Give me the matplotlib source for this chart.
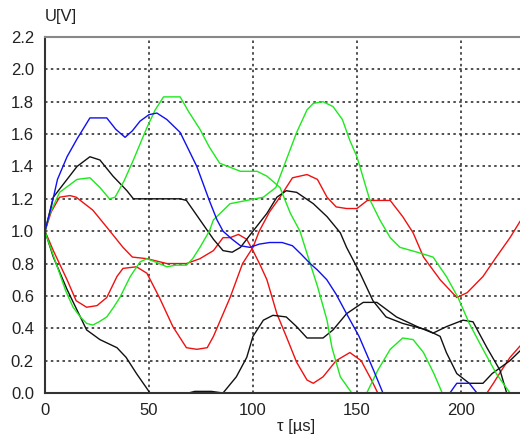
import numpy as np
import matplotlib.pyplot as plt

# oscilloscope traces (tau in us, U in V)
blue_t = [0, 3, 6, 10.6, 15.4, 21.6, 29.7, 34, 38.5, 42, 45.7, 50, 53.8, 58.6, 65, 73, 79, 82.7,
          85.6, 90, 94, 98.6, 103, 108, 114, 119, 123, 127.5, 131, 135.5, 140, 145, 151, 158,
          162.5, 178, 194.7, 198, 204, 207.7, 218, 228.4]
blue_u = [1.0, 1.15, 1.32, 1.46, 1.57, 1.70, 1.70, 1.63, 1.58, 1.62, 1.68, 1.72, 1.73, 1.69, 1.61,
          1.40, 1.19, 1.07, 1.0, 0.95, 0.91, 0.90, 0.92, 0.93, 0.93, 0.91, 0.86, 0.80, 0.76, 0.70,
          0.61, 0.49, 0.35, 0.14, 0.0, -0.2, 0.0, 0.06, 0.06, 0.0, -0.15, -0.25]

green1_t = [0, 2.4, 7, 15.4, 21.6, 26.4, 31, 33.7, 38, 42.5, 49, 53, 57, 65, 69, 74.5, 79, 84, 94,
            102, 106.7, 113, 118, 122.6, 127.5, 131, 135.6, 138, 142, 147.5, 151, 154.7, 160, 166,
            172, 177, 182, 187, 191, 210, 228.4]
green1_u = [1.0, 1.11, 1.24, 1.32, 1.33, 1.27, 1.20, 1.21, 1.31, 1.44, 1.64, 1.75, 1.83, 1.83, 1.74,
            1.63, 1.52, 1.42, 1.37, 1.37, 1.34, 1.27, 1.11, 1.0, 0.80, 0.66, 0.45, 0.28, 0.10, 0.0,
            -0.05, 0.0, 0.14, 0.27, 0.34, 0.33, 0.25, 0.12, 0.0, -0.3, -0.4]

green2_t = [0, 1, 4, 7, 10, 13.5, 17, 20, 23, 26, 29.7, 33, 36, 41, 45.7, 49, 53, 58.6, 63, 68, 71,
            74.5, 79, 81, 85, 89, 97, 105, 111, 116, 121, 126, 129, 133.7, 138.5, 143, 146.6, 150,
            153, 156, 161, 166, 170.7, 179, 186.6, 193, 198.6, 204, 210.6, 217, 223.6, 228.4]
green2_u = [1.0, 0.96, 0.85, 0.74, 0.63, 0.53, 0.47, 0.43, 0.42, 0.44, 0.47, 0.53, 0.59, 0.72, 0.81,
            0.83, 0.81, 0.78, 0.79, 0.79, 0.83, 0.90, 1.0, 1.07, 1.12, 1.17, 1.19, 1.21, 1.27, 1.44,
            1.61, 1.75, 1.79, 1.80, 1.77, 1.69, 1.56, 1.46, 1.33, 1.20, 1.07, 0.96, 0.90, 0.87,
            0.84, 0.72, 0.59, 0.43, 0.27, 0.12, 0.0, -0.1]

black1_t = [0, 4, 10.6, 15.4, 21.6, 26.4, 32.7, 39.4, 42.5, 50, 58, 65, 68, 74.5, 81, 85.6, 90, 94,
            97, 100, 106.7, 111.5, 116, 121, 129, 135.6, 142, 145, 151.5, 157.7, 164, 172, 183.6,
            190, 193, 198, 204, 210.6, 215, 223.6, 228.4]
black1_u = [1.0, 1.21, 1.32, 1.40, 1.46, 1.44, 1.34, 1.25, 1.20, 1.20, 1.20, 1.20, 1.19, 1.07, 0.95,
            0.88, 0.87, 0.90, 0.95, 1.0, 1.11, 1.21, 1.25, 1.24, 1.17, 1.09, 0.99, 0.90, 0.74, 0.57,
            0.47, 0.43, 0.39, 0.35, 0.25, 0.12, 0.06, 0.06, 0.12, 0.20, 0.26]

black2_t = [0, 4, 10.6, 17, 20, 26.4, 34.6, 39, 44, 50.5, 58, 66, 72, 80, 85.6, 92, 97, 100, 105,
            109.6, 116, 121, 126, 133.7, 138.5, 145, 153, 159.6, 169, 179, 186.6, 193, 201, 205.8,
            212.5, 218.8, 222, 228.4]
black2_u = [1.0, 0.84, 0.64, 0.47, 0.39, 0.33, 0.28, 0.22, 0.12, 0.0, -0.03, -0.01, 0.01, 0.01, 0.0,
            0.10, 0.22, 0.35, 0.45, 0.48, 0.47, 0.41, 0.34, 0.34, 0.39, 0.49, 0.56, 0.56, 0.47,
            0.41, 0.37, 0.41, 0.45, 0.44, 0.28, 0.14, 0.0, -0.2]

red1_t = [0, 3, 7, 12, 15, 19, 23, 30, 37.5, 42, 49, 58.6, 68, 74.5, 81, 85.6, 89, 93, 97, 100,
          103.5, 106.7, 111.5, 116, 121, 126, 129, 133.7, 140, 146.6, 152, 157, 160, 185, 212.5,
          215.6, 219, 223.6, 228.4]
red1_u = [1.0, 1.12, 1.21, 1.22, 1.21, 1.17, 1.13, 1.02, 0.90, 0.84, 0.83, 0.80, 0.80, 0.83, 0.88,
          0.96, 0.96, 0.98, 0.95, 0.88, 0.79, 0.70, 0.49, 0.35, 0.19, 0.08, 0.06, 0.10, 0.20, 0.25,
          0.20, 0.08, 0.0, -0.4, 0.0, 0.06, 0.13, 0.22, 0.29]

red2_t = [0, 4, 10.6, 15, 20, 25, 29.7, 34.6, 37.5, 44, 49, 55, 61.5, 68, 73, 78, 81, 85, 89, 95,
          100, 103, 108, 113, 119, 126, 131, 135.6, 140, 145, 150, 155, 160, 166, 172, 177, 182,
          190, 198, 203, 210.6, 217, 223.6, 228.4]
red2_u = [1.0, 0.88, 0.70, 0.57, 0.53, 0.54, 0.59, 0.72, 0.77, 0.78, 0.74, 0.59, 0.41, 0.28, 0.27,
          0.28, 0.35, 0.47, 0.59, 0.80, 0.90, 1.0, 1.12, 1.21, 1.33, 1.35, 1.32, 1.21, 1.15, 1.14,
          1.14, 1.19, 1.19, 1.19, 1.09, 0.99, 0.84, 0.70, 0.59, 0.62, 0.72, 0.84, 0.96, 1.06]

x_ticks = [0, 50, 100, 150, 200]
y_ticks = [0.0, 0.2, 0.4, 0.6, 0.8, 1.0, 1.2, 1.4, 1.6, 1.8, 2.0, 2.2]

plt.rcParams['font.family'] = ['Liberation Sans', 'DejaVu Sans']

fig = plt.figure(figsize=(5.2, 4.38), dpi=100)
ax = fig.add_axes([45 / 520, 1 - 393 / 438, 475 / 520, 356 / 438])

GREEN = '#1ee81e'
RED = '#f01010'
BLUE = '#1010f0'
ax.plot(red2_t, red2_u, color=RED, lw=1.0)
ax.plot(red1_t, red1_u, color=RED, lw=1.0)
ax.plot(black2_t, black2_u, color='#111111', lw=1.0)
ax.plot(black1_t, black1_u, color='#111111', lw=1.0)
ax.plot(green2_t, green2_u, color=GREEN, lw=1.0)
ax.plot(green1_t, green1_u, color=GREEN, lw=1.0)
ax.plot(blue_t, blue_u, color=BLUE, lw=1.0)

ax.set_xlim(0, 228.4)
ax.set_ylim(0, 2.2)
ax.set_xticks(x_ticks)
ax.set_yticks(y_ticks)
ax.set_yticklabels(['%.1f' % v for v in y_ticks])
ax.tick_params(length=0, labelsize=12, colors='#222222', pad=8)
ax.tick_params(axis='x', pad=7)

ax.grid(True, color='#333333', linestyle=(0, (1.5, 2)), lw=1.2)
ax.set_axisbelow(True)

ax.spines['right'].set_visible(False)
ax.spines['top'].set_color('#888888')
ax.spines['top'].set_linewidth(1.5)
for s in ('left', 'bottom'):
    ax.spines[s].set_color('#333333')
    ax.spines[s].set_linewidth(1.5)

fig.text(45 / 520, 1 - 17 / 438, 'U[V]', fontsize=12, color='#222222', ha='left', va='center')
fig.text(296 / 520, 1 - 427 / 438, 'τ [µs]', fontsize=12, color='#222222', ha='center', va='center')

fig.savefig('out.png', dpi=100)
